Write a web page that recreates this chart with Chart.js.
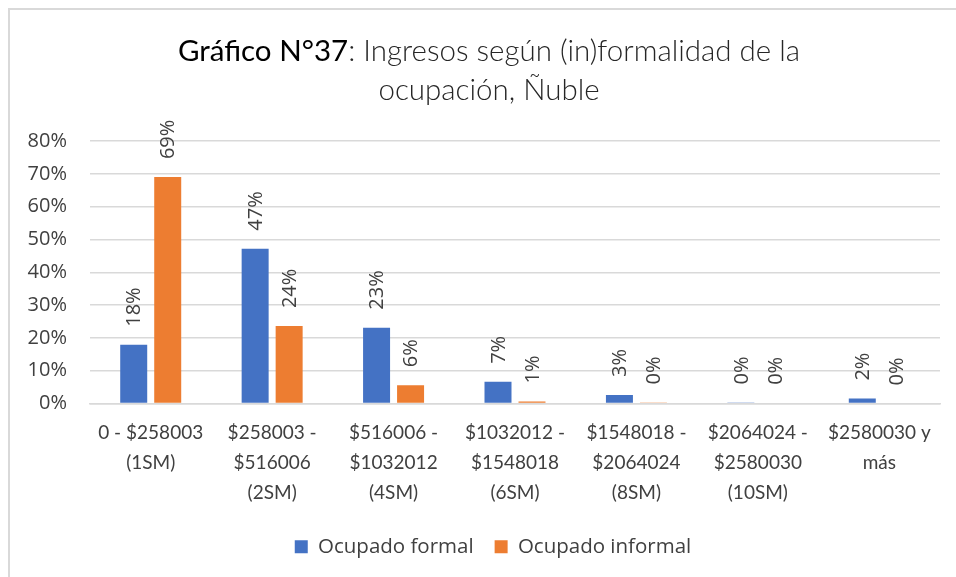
<!DOCTYPE html>
<html lang="es">
<head>
<meta charset="utf-8">
<title>Ingresos según (in)formalidad de la ocupación, Ñuble</title>
<script src="https://cdn.jsdelivr.net/npm/chart.js@4.4.1/dist/chart.umd.min.js"></script>
<style>
  html, body { margin: 0; padding: 0; background: #ffffff; }
  #wrap { position: relative; width: 956px; height: 577px; overflow: hidden; }
  #frame {
    position: absolute; left: 8px; top: 8px; right: -10px; bottom: -10px;
    border-left: 2px solid #d9d9d9; border-top: 2px solid #d9d9d9;
    pointer-events: none;
  }
  #title {
    position: absolute; left: 11px; top: 30px; width: 956px;
    text-align: center; font-family: Lato, "Liberation Sans", sans-serif;
    font-size: 29.5px; line-height: 39px; color: #262626; font-weight: 300;
  }
  #title b { font-weight: 400; color: #000000; }
  canvas { position: absolute; left: 0; top: 0; }
</style>
</head>
<body>
<div id="wrap">
  <canvas id="chart" width="956" height="577"></canvas>
  <div id="title"><b>Gráfico N°37</b>: Ingresos según (in)formalidad de la<br>ocupación, Ñuble</div>
  <div id="frame"></div>
</div>
<script>
// Income brackets (multiples of the minimum wage)
const categories = [
  ['0 - $258003', '(1SM)'],
  ['$258003 -', '$516006', '(2SM)'],
  ['$516006 -', '$1032012', '(4SM)'],
  ['$1032012 -', '$1548018', '(6SM)'],
  ['$1548018 -', '$2064024', '(8SM)'],
  ['$2064024 -', '$2580030', '(10SM)'],
  ['$2580030 y', 'más']
];

// Share of each group in every bracket, in percent
const formalValues   = [17.9, 47.2, 23.1, 6.6, 2.6, 0.3, 1.5];
const informalValues = [69.0, 23.6, 5.6, 0.6, 0.3, 0.2, 0.0];

const seriesNames = ['Ocupado formal', 'Ocupado informal'];
const yTicks = [0, 10, 20, 30, 40, 50, 60, 70, 80];

const BLUE = '#4472C4';
const ORANGE = '#ED7D31';
const TEXT = '#404040';
const GRID = '#d9d9d9';

// Vertical value labels above each bar
const verticalLabels = {
  id: 'verticalLabels',
  afterDatasetsDraw(chart) {
    const ctx = chart.ctx;
    ctx.save();
    ctx.font = '20px "Open Sans", "Noto Sans", sans-serif';
    ctx.fillStyle = TEXT;
    ctx.textAlign = 'left';
    ctx.textBaseline = 'middle';
    chart.data.datasets.forEach((ds, i) => {
      const meta = chart.getDatasetMeta(i);
      meta.data.forEach((bar, j) => {
        const text = Math.round(ds.data[j]) + '%';
        ctx.save();
        ctx.translate(bar.x, bar.y - 18);
        ctx.rotate(-Math.PI / 2);
        ctx.fillText(text, 0, 1);
        ctx.restore();
      });
    });
    ctx.restore();
  }
};

// Center the legend under the plot area rather than the whole canvas
const legendShift = {
  id: 'legendShift',
  afterLayout(chart) {
    const lg = chart.legend;
    if (lg) { lg.left += 23; lg.right += 23; }
  }
};

new Chart(document.getElementById('chart'), {
  type: 'bar',
  data: {
    labels: categories,
    datasets: [
      { label: seriesNames[0], data: formalValues, backgroundColor: BLUE,
        categoryPercentage: 0.56, barPercentage: 0.794 },
      { label: seriesNames[1], data: informalValues, backgroundColor: ORANGE,
        categoryPercentage: 0.56, barPercentage: 0.794 }
    ]
  },
  options: {
    responsive: false,
    animation: false,
    layout: { padding: { top: 141, right: 16, left: 0, bottom: 10 } },
    plugins: {
      title: { display: false },
      tooltip: { enabled: false },
      legend: {
        position: 'bottom',
        labels: {
          boxWidth: 13, boxHeight: 13, padding: 21,
          color: TEXT,
          font: { family: '"Open Sans", "Noto Sans", sans-serif', size: 20.5 }
        }
      }
    },
    scales: {
      x: {
        grid: { display: false, drawTicks: false },
        border: { display: true, color: GRID, width: 1.5 },
        ticks: {
          color: TEXT, autoSkip: false, maxRotation: 0, minRotation: 0, padding: 14,
          font: { family: 'Lato, "Liberation Sans", sans-serif', size: 19, lineHeight: '30px' }
        },
        afterFit(scale) { scale.height = 112; }
      },
      y: {
        min: 0, max: 80,
        afterBuildTicks(scale) { scale.ticks = yTicks.map(v => ({ value: v })); },
        grid: { color: GRID, lineWidth: 1.5, drawTicks: false },
        border: { display: false },
        ticks: {
          color: TEXT, padding: 23,
          font: { family: '"Open Sans", "Noto Sans", sans-serif', size: 20 },
          callback: v => v + '%'
        },
        afterFit(scale) { scale.width = 90; }
      }
    }
  },
  plugins: [verticalLabels, legendShift]
});
</script>
</body>
</html>
